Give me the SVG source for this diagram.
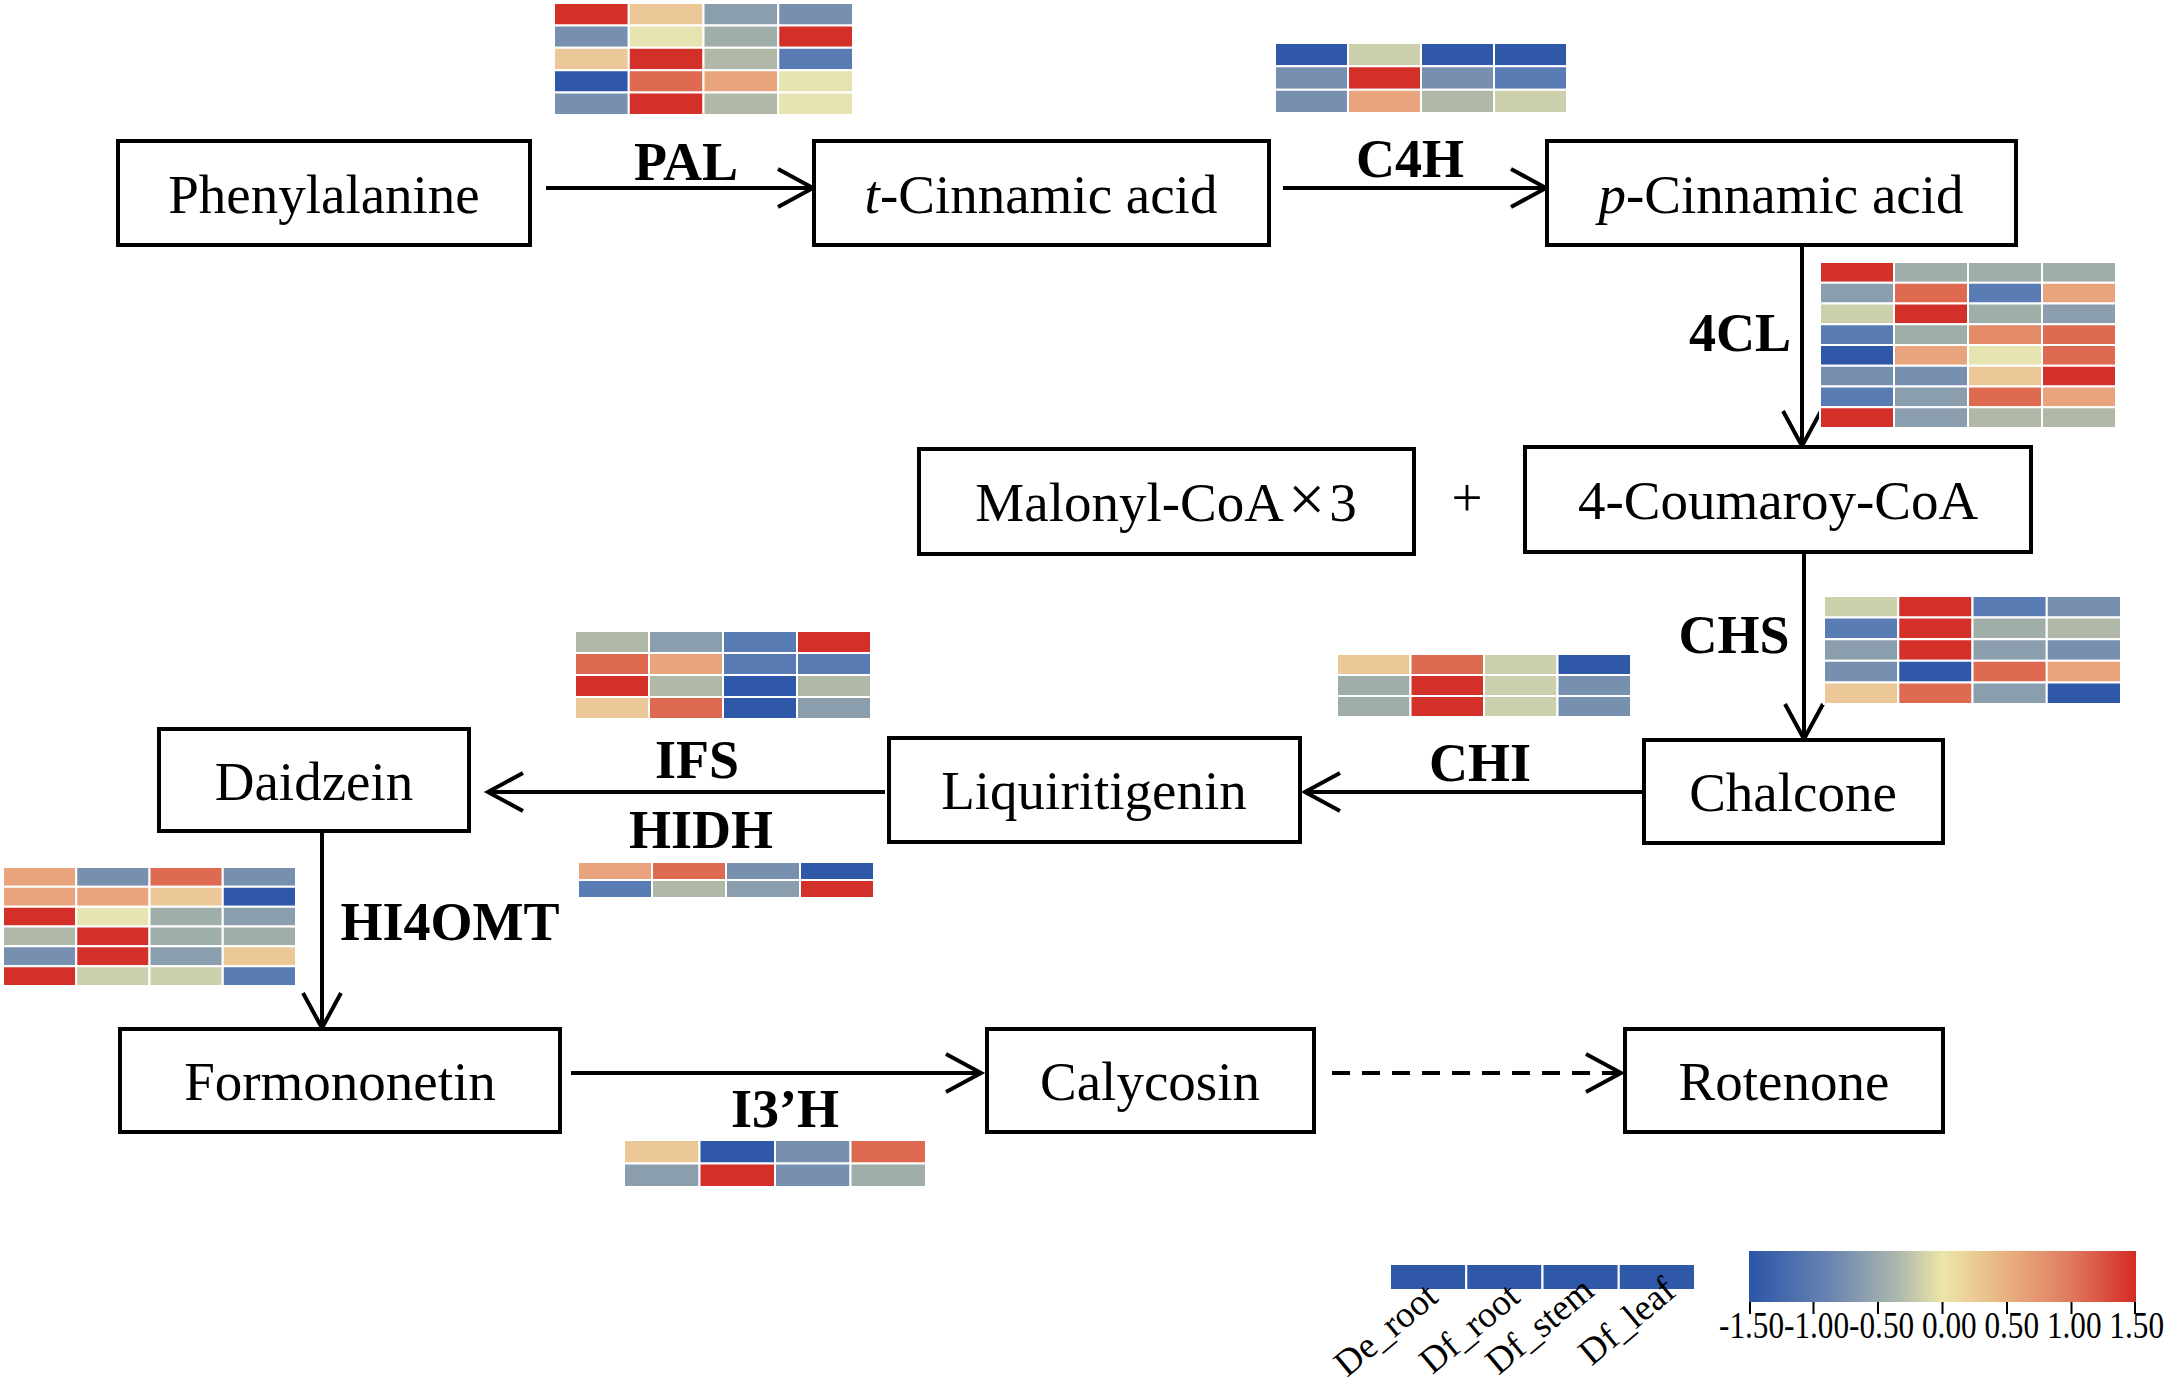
<svg xmlns="http://www.w3.org/2000/svg" width="2168" height="1389" viewBox="0 0 2168 1389">
<defs>
<style>
.box{fill:#fff;stroke:#000;stroke-width:4}
.lbl{font-family:"Liberation Serif","Times New Roman",serif;font-size:55px;fill:#000;text-anchor:middle}
.enz{font-family:"Liberation Serif","Times New Roman",serif;font-size:54px;font-weight:bold;fill:#000;text-anchor:middle}
.con{fill:none;stroke:#000;stroke-width:4}
.hm rect{stroke:#fff;stroke-width:2;vector-effect:non-scaling-stroke}
.R{fill:#d4302a}.S{fill:#de6a52}.LS{fill:#e8a47c}.PE{fill:#ecc898}.LY{fill:#e6e4b0}.GY{fill:#ccd0ac}
.GG{fill:#b0b8a8}.G{fill:#a0aeaa}.GB{fill:#8a9eae}.BG{fill:#7890b0}.B{fill:#5a7cb4}.DB{fill:#2f58a8}
.leg{font-family:"Liberation Serif","Times New Roman",serif;font-size:37px;fill:#000}
</style>
<marker id="ah" markerUnits="userSpaceOnUse" markerWidth="50" markerHeight="50" viewBox="-40 -25 45 50" refX="0" refY="0" orient="auto">
<path d="M-35,-19 L0,0 L-35,19" fill="none" stroke="#000" stroke-width="4"/>
</marker>
<linearGradient id="cb" x1="0" y1="0" x2="1" y2="0">
<stop offset="0" stop-color="#2c55a8"/>
<stop offset="0.2" stop-color="#6682b0"/>
<stop offset="0.38" stop-color="#aab6ac"/>
<stop offset="0.5" stop-color="#ece6a8"/>
<stop offset="0.66" stop-color="#e9b280"/>
<stop offset="0.82" stop-color="#e07e62"/>
<stop offset="1" stop-color="#d42a26"/>
</linearGradient>
</defs>
<rect width="2168" height="1389" fill="#fff"/>

<g id="connectors">
<path class="con" d="M546,188 H813" marker-end="url(#ah)"/>
<path class="con" d="M1283,188 H1546" marker-end="url(#ah)"/>
<path class="con" d="M1802,245 V446" marker-end="url(#ah)"/>
<path class="con" d="M1804,552 V739" marker-end="url(#ah)"/>
<path class="con" d="M1644,792 H1305" marker-end="url(#ah)"/>
<path class="con" d="M885,792 H488" marker-end="url(#ah)"/>
<path class="con" d="M322,831 V1028" marker-end="url(#ah)"/>
<path class="con" d="M571,1073 H981" marker-end="url(#ah)"/>
<path class="con" d="M1332,1073 H1621" stroke-dasharray="18 12" marker-end="url(#ah)"/>
</g>

<g id="n-phenylalanine"><rect class="box" x="118" y="141" width="412" height="104"/><text class="lbl" x="324" y="213">Phenylalanine</text></g>
<g id="n-tcinnamic"><rect class="box" x="814" y="141" width="455" height="104"/><text class="lbl" x="1041" y="213"><tspan font-style="italic">t</tspan>-Cinnamic acid</text></g>
<g id="n-pcinnamic"><rect class="box" x="1547" y="141" width="469" height="104"/><text class="lbl" x="1781" y="213"><tspan font-style="italic">p</tspan>-Cinnamic acid</text></g>
<g id="n-malonyl"><rect class="box" x="919" y="449" width="495" height="105"/><text class="lbl" x="1166" y="521">Malonyl-CoA<tspan dx="4" font-size="66">×</tspan><tspan dx="4">3</tspan></text></g>
<g id="plus"><text class="lbl" x="1467" y="516" font-size="80">+</text></g>
<g id="n-coumaroy"><rect class="box" x="1525" y="447" width="506" height="105"/><text class="lbl" x="1778" y="519">4-Coumaroy-CoA</text></g>
<g id="n-chalcone"><rect class="box" x="1644" y="740" width="299" height="103"/><text class="lbl" x="1793" y="811">Chalcone</text></g>
<g id="n-liquiritigenin"><rect class="box" x="889" y="738" width="411" height="104"/><text class="lbl" x="1094" y="809">Liquiritigenin</text></g>
<g id="n-daidzein"><rect class="box" x="159" y="729" width="310" height="102"/><text class="lbl" x="314" y="800">Daidzein</text></g>
<g id="n-formononetin"><rect class="box" x="120" y="1029" width="440" height="103"/><text class="lbl" x="340" y="1100">Formononetin</text></g>
<g id="n-calycosin"><rect class="box" x="987" y="1029" width="327" height="103"/><text class="lbl" x="1150" y="1100">Calycosin</text></g>
<g id="n-rotenone"><rect class="box" x="1625" y="1029" width="318" height="103"/><text class="lbl" x="1784" y="1100">Rotenone</text></g>

<g id="enzyme-labels">
<text class="enz" x="686" y="180">PAL</text>
<text class="enz" x="1410" y="177">C4H</text>
<text class="enz" x="1740" y="351">4CL</text>
<text class="enz" x="1734" y="653">CHS</text>
<text class="enz" x="1480" y="781">CHI</text>
<text class="enz" x="697" y="778">IFS</text>
<text class="enz" x="701" y="848">HIDH</text>
<text class="enz" x="450" y="940">HI4OMT</text>
<text class="enz" x="785" y="1127">I3’H</text>
</g>

<g id="hm-pal" class="hm" transform="translate(554,3) scale(74.75,22.4)">
<rect x="0" y="0" width="1" height="1" class="R"/><rect x="1" y="0" width="1" height="1" class="PE"/><rect x="2" y="0" width="1" height="1" class="GB"/><rect x="3" y="0" width="1" height="1" class="BG"/>
<rect x="0" y="1" width="1" height="1" class="BG"/><rect x="1" y="1" width="1" height="1" class="LY"/><rect x="2" y="1" width="1" height="1" class="G"/><rect x="3" y="1" width="1" height="1" class="R"/>
<rect x="0" y="2" width="1" height="1" class="PE"/><rect x="1" y="2" width="1" height="1" class="R"/><rect x="2" y="2" width="1" height="1" class="GG"/><rect x="3" y="2" width="1" height="1" class="B"/>
<rect x="0" y="3" width="1" height="1" class="DB"/><rect x="1" y="3" width="1" height="1" class="S"/><rect x="2" y="3" width="1" height="1" class="LS"/><rect x="3" y="3" width="1" height="1" class="LY"/>
<rect x="0" y="4" width="1" height="1" class="BG"/><rect x="1" y="4" width="1" height="1" class="R"/><rect x="2" y="4" width="1" height="1" class="GG"/><rect x="3" y="4" width="1" height="1" class="LY"/>
</g>
<g id="hm-c4h" class="hm" transform="translate(1275,43) scale(73,23.33)">
<rect x="0" y="0" width="1" height="1" class="DB"/><rect x="1" y="0" width="1" height="1" class="GY"/><rect x="2" y="0" width="1" height="1" class="DB"/><rect x="3" y="0" width="1" height="1" class="DB"/>
<rect x="0" y="1" width="1" height="1" class="BG"/><rect x="1" y="1" width="1" height="1" class="R"/><rect x="2" y="1" width="1" height="1" class="BG"/><rect x="3" y="1" width="1" height="1" class="B"/>
<rect x="0" y="2" width="1" height="1" class="BG"/><rect x="1" y="2" width="1" height="1" class="LS"/><rect x="2" y="2" width="1" height="1" class="GG"/><rect x="3" y="2" width="1" height="1" class="GY"/>
</g>
<g id="hm-4cl" class="hm" transform="translate(1820,262) scale(74,20.75)">
<rect x="0" y="0" width="1" height="1" class="R"/><rect x="1" y="0" width="1" height="1" class="G"/><rect x="2" y="0" width="1" height="1" class="G"/><rect x="3" y="0" width="1" height="1" class="G"/>
<rect x="0" y="1" width="1" height="1" class="GB"/><rect x="1" y="1" width="1" height="1" class="S"/><rect x="2" y="1" width="1" height="1" class="B"/><rect x="3" y="1" width="1" height="1" class="LS"/>
<rect x="0" y="2" width="1" height="1" class="GY"/><rect x="1" y="2" width="1" height="1" class="R"/><rect x="2" y="2" width="1" height="1" class="G"/><rect x="3" y="2" width="1" height="1" class="GB"/>
<rect x="0" y="3" width="1" height="1" class="B"/><rect x="1" y="3" width="1" height="1" class="G"/><rect x="2" y="3" width="1" height="1" fill="#e48a68"/><rect x="3" y="3" width="1" height="1" class="S"/>
<rect x="0" y="4" width="1" height="1" class="DB"/><rect x="1" y="4" width="1" height="1" class="LS"/><rect x="2" y="4" width="1" height="1" class="LY"/><rect x="3" y="4" width="1" height="1" class="S"/>
<rect x="0" y="5" width="1" height="1" class="BG"/><rect x="1" y="5" width="1" height="1" class="BG"/><rect x="2" y="5" width="1" height="1" class="PE"/><rect x="3" y="5" width="1" height="1" class="R"/>
<rect x="0" y="6" width="1" height="1" class="B"/><rect x="1" y="6" width="1" height="1" class="GB"/><rect x="2" y="6" width="1" height="1" class="S"/><rect x="3" y="6" width="1" height="1" class="LS"/>
<rect x="0" y="7" width="1" height="1" class="R"/><rect x="1" y="7" width="1" height="1" class="GB"/><rect x="2" y="7" width="1" height="1" class="GG"/><rect x="3" y="7" width="1" height="1" class="GG"/>
</g>
<g id="hm-chs" class="hm" transform="translate(1824,596) scale(74.25,21.6)">
<rect x="0" y="0" width="1" height="1" class="GY"/><rect x="1" y="0" width="1" height="1" class="R"/><rect x="2" y="0" width="1" height="1" class="B"/><rect x="3" y="0" width="1" height="1" class="BG"/>
<rect x="0" y="1" width="1" height="1" class="B"/><rect x="1" y="1" width="1" height="1" class="R"/><rect x="2" y="1" width="1" height="1" class="G"/><rect x="3" y="1" width="1" height="1" class="GG"/>
<rect x="0" y="2" width="1" height="1" class="GB"/><rect x="1" y="2" width="1" height="1" class="R"/><rect x="2" y="2" width="1" height="1" class="GB"/><rect x="3" y="2" width="1" height="1" class="BG"/>
<rect x="0" y="3" width="1" height="1" class="BG"/><rect x="1" y="3" width="1" height="1" class="DB"/><rect x="2" y="3" width="1" height="1" class="S"/><rect x="3" y="3" width="1" height="1" class="LS"/>
<rect x="0" y="4" width="1" height="1" class="PE"/><rect x="1" y="4" width="1" height="1" class="S"/><rect x="2" y="4" width="1" height="1" class="GB"/><rect x="3" y="4" width="1" height="1" class="DB"/>
</g>
<g id="hm-chi" class="hm" transform="translate(1337,654) scale(73.5,21)">
<rect x="0" y="0" width="1" height="1" class="PE"/><rect x="1" y="0" width="1" height="1" class="S"/><rect x="2" y="0" width="1" height="1" class="GY"/><rect x="3" y="0" width="1" height="1" class="DB"/>
<rect x="0" y="1" width="1" height="1" class="G"/><rect x="1" y="1" width="1" height="1" class="R"/><rect x="2" y="1" width="1" height="1" class="GY"/><rect x="3" y="1" width="1" height="1" class="BG"/>
<rect x="0" y="2" width="1" height="1" class="G"/><rect x="1" y="2" width="1" height="1" class="R"/><rect x="2" y="2" width="1" height="1" class="GY"/><rect x="3" y="2" width="1" height="1" class="BG"/>
</g>
<g id="hm-ifs" class="hm" transform="translate(575,631) scale(74,22)">
<rect x="0" y="0" width="1" height="1" class="GG"/><rect x="1" y="0" width="1" height="1" class="GB"/><rect x="2" y="0" width="1" height="1" class="B"/><rect x="3" y="0" width="1" height="1" class="R"/>
<rect x="0" y="1" width="1" height="1" class="S"/><rect x="1" y="1" width="1" height="1" class="LS"/><rect x="2" y="1" width="1" height="1" class="B"/><rect x="3" y="1" width="1" height="1" class="B"/>
<rect x="0" y="2" width="1" height="1" class="R"/><rect x="1" y="2" width="1" height="1" class="GG"/><rect x="2" y="2" width="1" height="1" class="DB"/><rect x="3" y="2" width="1" height="1" class="GG"/>
<rect x="0" y="3" width="1" height="1" class="PE"/><rect x="1" y="3" width="1" height="1" class="S"/><rect x="2" y="3" width="1" height="1" class="DB"/><rect x="3" y="3" width="1" height="1" class="GB"/>
</g>
<g id="hm-hidh" class="hm" transform="translate(578,862) scale(74,18)">
<rect x="0" y="0" width="1" height="1" class="LS"/><rect x="1" y="0" width="1" height="1" class="S"/><rect x="2" y="0" width="1" height="1" class="BG"/><rect x="3" y="0" width="1" height="1" class="DB"/>
<rect x="0" y="1" width="1" height="1" class="B"/><rect x="1" y="1" width="1" height="1" class="GG"/><rect x="2" y="1" width="1" height="1" class="GB"/><rect x="3" y="1" width="1" height="1" class="R"/>
</g>
<g id="hm-hi4omt" class="hm" transform="translate(3,867) scale(73.25,19.83)">
<rect x="0" y="0" width="1" height="1" class="LS"/><rect x="1" y="0" width="1" height="1" class="BG"/><rect x="2" y="0" width="1" height="1" class="S"/><rect x="3" y="0" width="1" height="1" class="BG"/>
<rect x="0" y="1" width="1" height="1" class="LS"/><rect x="1" y="1" width="1" height="1" class="LS"/><rect x="2" y="1" width="1" height="1" class="PE"/><rect x="3" y="1" width="1" height="1" class="DB"/>
<rect x="0" y="2" width="1" height="1" class="R"/><rect x="1" y="2" width="1" height="1" class="LY"/><rect x="2" y="2" width="1" height="1" class="G"/><rect x="3" y="2" width="1" height="1" class="GB"/>
<rect x="0" y="3" width="1" height="1" class="GG"/><rect x="1" y="3" width="1" height="1" class="R"/><rect x="2" y="3" width="1" height="1" class="G"/><rect x="3" y="3" width="1" height="1" class="G"/>
<rect x="0" y="4" width="1" height="1" class="BG"/><rect x="1" y="4" width="1" height="1" class="R"/><rect x="2" y="4" width="1" height="1" class="GB"/><rect x="3" y="4" width="1" height="1" class="PE"/>
<rect x="0" y="5" width="1" height="1" class="R"/><rect x="1" y="5" width="1" height="1" class="GY"/><rect x="2" y="5" width="1" height="1" class="GY"/><rect x="3" y="5" width="1" height="1" class="B"/>
</g>
<g id="hm-i3h" class="hm" transform="translate(624,1140) scale(75.5,23.5)">
<rect x="0" y="0" width="1" height="1" class="PE"/><rect x="1" y="0" width="1" height="1" class="DB"/><rect x="2" y="0" width="1" height="1" class="BG"/><rect x="3" y="0" width="1" height="1" class="S"/>
<rect x="0" y="1" width="1" height="1" class="GB"/><rect x="1" y="1" width="1" height="1" class="R"/><rect x="2" y="1" width="1" height="1" class="BG"/><rect x="3" y="1" width="1" height="1" class="G"/>
</g>

<g id="legend-samples">
<g class="hm" transform="translate(1390,1264) scale(76.25,26)">
<rect x="0" y="0" width="1" height="1" class="DB"/><rect x="1" y="0" width="1" height="1" class="DB"/><rect x="2" y="0" width="1" height="1" class="DB"/><rect x="3" y="0" width="1" height="1" class="DB"/>
</g>
<text class="leg" text-anchor="end" transform="translate(1440,1300) rotate(-40)">De_root</text>
<text class="leg" text-anchor="end" transform="translate(1522,1300) rotate(-40)">Df_root</text>
<text class="leg" text-anchor="end" transform="translate(1596,1294) rotate(-40)">Df_stem</text>
<text class="leg" text-anchor="end" transform="translate(1678,1294) rotate(-40)">Df_leaf</text>
</g>

<g id="legend-colorbar">
<rect x="1749" y="1251" width="387" height="51" fill="url(#cb)"/>
<path d="M1750,1302 V1314 M1813.5,1302 V1314 M1878,1302 V1314 M1942.5,1302 V1314 M2007,1302 V1314 M2071.5,1302 V1314 M2135,1302 V1314" stroke="#000" stroke-width="2"/>
<text class="leg" x="1719" y="1338" font-size="30" textLength="445" lengthAdjust="spacingAndGlyphs">-1.50-1.00-0.50 0.00 0.50 1.00 1.50</text>
</g>
</svg>
